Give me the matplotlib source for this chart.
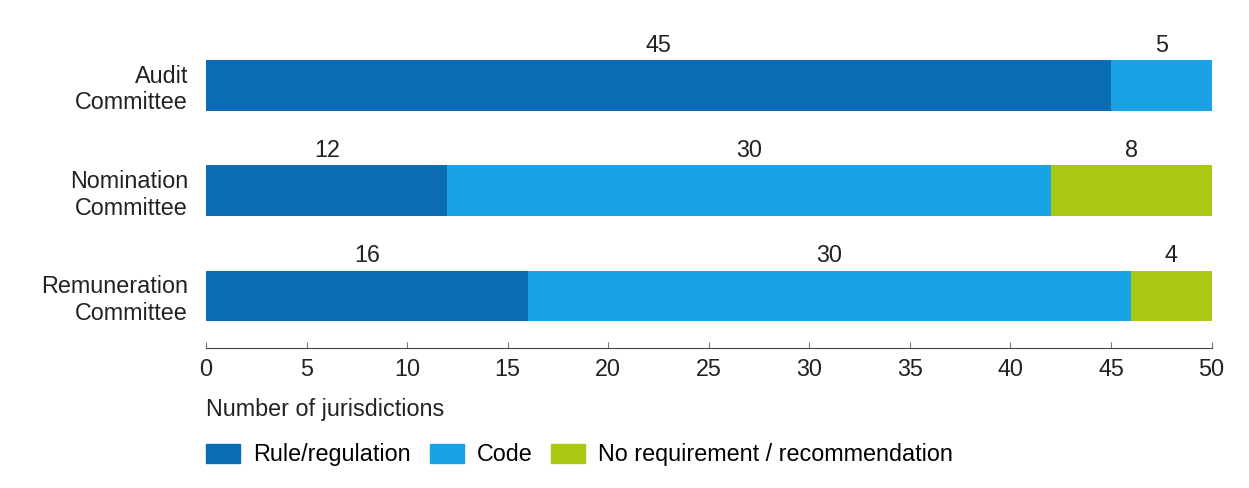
import matplotlib.pyplot as plt
from matplotlib.patches import Patch

plt.rcParams['font.family'] = ['Liberation Sans', 'DejaVu Sans']

comites = ["Audit\nCommittee", "Nomination\nCommittee", "Remuneration\nCommittee"]
regra = [45, 12, 16]
codigo = [5, 30, 30]
nenhum = [0, 8, 4]

series = ["Rule/regulation", "Code", "No requirement / recommendation"]
cores = ["#0b6cb5", "#1aa2e6", "#a8c814"]
tam = 16.8

fig = plt.figure(figsize=(12.49, 4.88), dpi=100)
ax = fig.add_axes([0.165, 0.287, 0.805, 0.631])

pos = [2, 1, 0]
esquerda = [0, 0, 0]
for valores, cor in zip([regra, codigo, nenhum], cores):
    ax.barh(pos, valores, left=esquerda, height=0.48, color=cor)
    for p, e, v in zip(pos, esquerda, valores):
        if v > 0:
            ax.text(e + v / 2, p + 0.38, str(v), ha="center", va="center",
                    fontsize=tam, color="#222222")
    esquerda = [a + b for a, b in zip(esquerda, valores)]

ax.set_xlim(0, 50)
ax.set_ylim(-0.495, 2.43)
ax.set_xticks(range(0, 51, 5))
ax.set_yticks(pos)
ax.set_yticklabels(comites, fontsize=tam, color="#222222")
ax.tick_params(axis="y", length=0, pad=13)
ax.tick_params(axis="x", direction="in", length=4, labelsize=tam,
               labelcolor="#222222", pad=7, color="#777777")
for s in ["top", "right", "left"]:
    ax.spines[s].set_visible(False)
ax.spines["bottom"].set_color("#444444")

fig.text(0.165, 0.16, "Number of jurisdictions", fontsize=tam, color="#222222",
         va="center")

handles = [Patch(color=c, label=l) for c, l in zip(cores, series)]
fig.legend(handles=handles, loc="center left", bbox_to_anchor=(0.165, 0.068),
           ncol=3, frameon=False, fontsize=tam, handlelength=1.46,
           handleheight=0.9, handletextpad=0.56, columnspacing=0.8,
           borderpad=0, borderaxespad=0)

plt.savefig("out.png")
plt.close()
